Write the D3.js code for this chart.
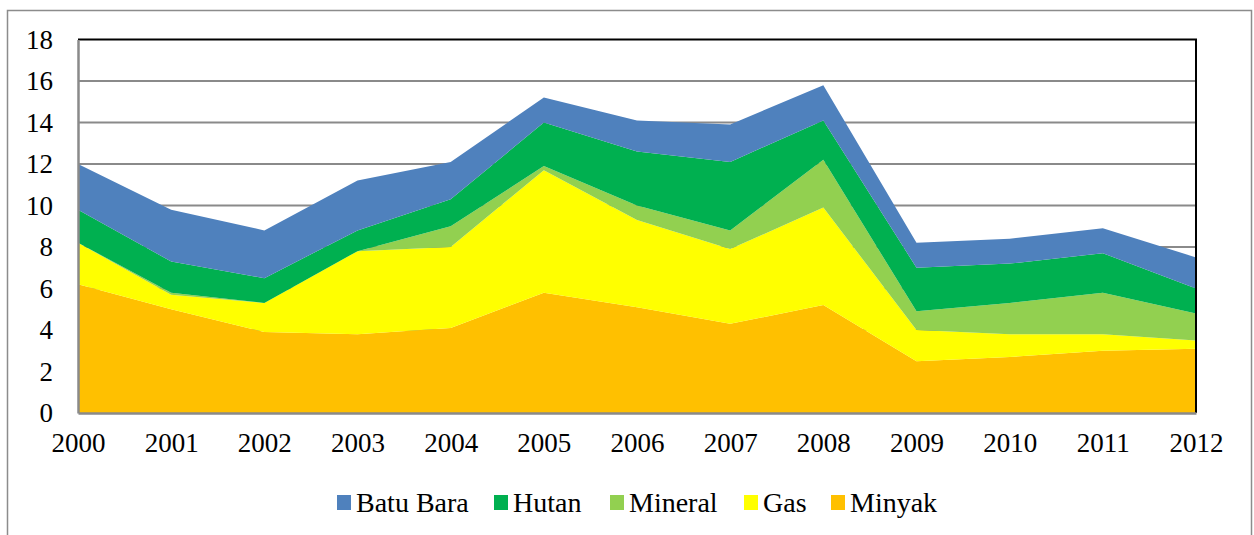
<!DOCTYPE html>
<html>
<head>
<meta charset="utf-8">
<script src="https://cdn.jsdelivr.net/npm/d3@7"></script>
<style>
  body { margin: 0; background: #fff; }
  svg text { font-family: "Liberation Serif", serif; fill: #000; }
</style>
</head>
<body>
<svg id="chart" width="1254" height="535"></svg>
<script>
// Years on the x axis
const years = [2000, 2001, 2002, 2003, 2004, 2005, 2006, 2007, 2008, 2009, 2010, 2011, 2012];

// Series values (stacked bottom to top: Minyak, Gas, Mineral, Hutan, Batu Bara)
const minyak   = [6.2, 5.0, 3.9, 3.8, 4.1, 5.8, 5.1, 4.3, 5.2, 2.5, 2.7, 3.0, 3.1];
const gas      = [2.0, 0.7, 1.4, 4.0, 3.9, 5.9, 4.2, 3.6, 4.7, 1.5, 1.1, 0.8, 0.4];
const mineral  = [0.0, 0.1, 0.0, 0.0, 1.0, 0.2, 0.7, 0.9, 2.3, 0.9, 1.5, 2.0, 1.3];
const hutan    = [1.6, 1.5, 1.2, 1.0, 1.3, 2.1, 2.6, 3.3, 1.9, 2.1, 1.9, 1.9, 1.2];
const batuBara = [2.2, 2.5, 2.3, 2.4, 1.8, 1.2, 1.5, 1.8, 1.7, 1.2, 1.2, 1.2, 1.5];

const yTicks = [0, 2, 4, 6, 8, 10, 12, 14, 16, 18];

// Stack order and legend order
const stackKeys = ['Minyak', 'Gas', 'Mineral', 'Hutan', 'Batu Bara'];
const legendKeys = ['Batu Bara', 'Hutan', 'Mineral', 'Gas', 'Minyak'];
const colors = {
  'Batu Bara': '#4F81BD',
  'Hutan': '#00B050',
  'Mineral': '#92D050',
  'Gas': '#FFFF00',
  'Minyak': '#FFC000'
};

const rows = years.map((year, i) => ({
  year,
  'Minyak': minyak[i],
  'Gas': gas[i],
  'Mineral': mineral[i],
  'Hutan': hutan[i],
  'Batu Bara': batuBara[i]
}));

const svg = d3.select('#chart');
const plot = {left: 78, right: 1196, top: 39.5, bottom: 413};

// Outer chart frame
svg.append('rect').
  attr('x', 7.5).attr('y', 10.5).
  attr('width', 1244).attr('height', 600).
  attr('fill', '#fff').attr('stroke', '#8c8c8c').attr('stroke-width', 1.5);

const x = d3.scaleLinear().domain([years[0], years[years.length - 1]]).range([plot.left, plot.right]);
const y = d3.scaleLinear().domain([0, 18]).range([plot.bottom, plot.top]);

// Gridlines
svg.append('g').
  selectAll('line').
  data(yTicks.filter((t) => t > 0 && t < 18)).
  join('line').
    attr('x1', plot.left).attr('x2', plot.right).
    attr('y1', (d) => y(d)).attr('y2', (d) => y(d)).
    attr('stroke', '#8a8a8a').attr('stroke-width', 2);

// Stacked areas
const series = d3.stack().keys(stackKeys)(rows);
const area = d3.area().
  x((d) => x(d.data.year)).
  y0((d) => y(d[0])).
  y1((d) => y(d[1]));

svg.append('g').
  selectAll('path').
  data(series).
  join('path').
    attr('fill', (d) => colors[d.key]).
    attr('d', area);

// Plot border: black top and right, gray axes on left and bottom
svg.append('line').
  attr('x1', plot.left).attr('x2', plot.right + 1).
  attr('y1', plot.top).attr('y2', plot.top).
  attr('stroke', '#000').attr('stroke-width', 2);
svg.append('line').
  attr('x1', plot.right).attr('x2', plot.right).
  attr('y1', plot.top).attr('y2', plot.bottom).
  attr('stroke', '#000').attr('stroke-width', 2);

const yAxis = svg.append('g').
  attr('transform', `translate(${plot.left},0)`).
  call(d3.axisLeft(y).tickValues(yTicks).tickSize(0).tickPadding(25));
const xAxis = svg.append('g').
  attr('transform', `translate(0,${plot.bottom})`).
  call(d3.axisBottom(x).tickValues(years).tickFormat(d3.format('d')).tickSize(0).tickPadding(20));

[yAxis, xAxis].forEach((axis) => {
  axis.select('.domain').attr('stroke', '#8a8a8a').attr('stroke-width', 2.5);
  axis.selectAll('text').
    style('font-family', '"Liberation Serif", serif').
    style('font-size', '27px').
    attr('fill', '#000');
});

// Legend
const legendItems = [
  {key: 'Batu Bara', x: 337},
  {key: 'Hutan', x: 494},
  {key: 'Mineral', x: 610},
  {key: 'Gas', x: 744},
  {key: 'Minyak', x: 831}
];
const legend = svg.append('g').
  selectAll('g').
  data(legendKeys.map((k) => legendItems.find((item) => item.key === k))).
  join('g').
    attr('transform', (d) => `translate(${d.x},495)`);
legend.append('rect').
  attr('width', 14).attr('height', 15).
  attr('fill', (d) => colors[d.key]);
legend.append('text').
  attr('x', 19).attr('y', 17).
  style('font-size', '28px').
  text((d) => d.key);
</script>
</body>
</html>
